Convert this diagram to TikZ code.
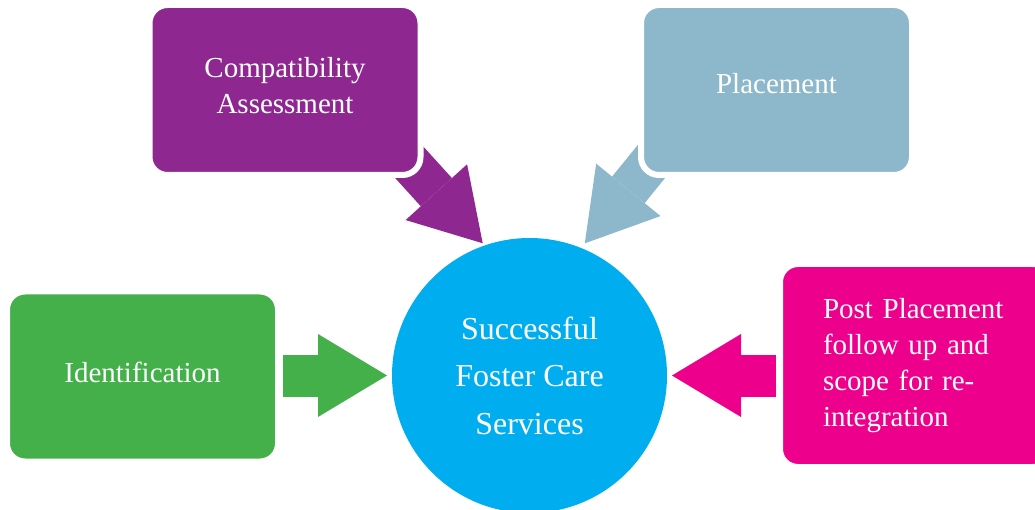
\documentclass[tikz,border=0pt]{standalone}
\usepackage{fontspec}
\setmainfont{Liberation Serif}
\definecolor{compatpurple}{RGB}{142, 39, 143}
\definecolor{placeblue}{RGB}{141, 184, 203}
\definecolor{identgreen}{RGB}{67, 176, 74}
\definecolor{postpink}{RGB}{236, 0, 140}
\definecolor{carecyan}{RGB}{0, 174, 239}
\usetikzlibrary{arrows.meta, positioning, backgrounds}

\begin{document}
\begin{tikzpicture}[x=1pt, y=1pt,
  sbox/.style={draw=white, line width=6pt, rounded corners=18pt, minimum width=271pt, minimum height=170pt, align=center, text=white, font=\fontsize{29}{36}\selectfont, inner sep=0pt},
  cbox/.style={circle, fill=carecyan, minimum size=275pt, inner sep=0pt, outer sep=0pt, align=center, text=white, font=\fontsize{32}{47.5}\selectfont},
  barrow/.style={line width=42pt, -{Triangle[width=83pt, length=69pt, line width=0pt]}}
]
  \useasboundingbox (0,0) rectangle (1035,509);
  \clip (0,0) rectangle (1035,509);

  % Centre
  \node[cbox] (svc) at (529.5, 133.5) {Successful\\Foster Care\\Services};

  % Stages
  \node[sbox, fill=compatpurple, text depth=10pt] (compat) at (285, 419) {Compatibility\\Assessment};
  \node[sbox, fill=placeblue, text depth=14pt] (place) at (776.5, 419) {Placement};
  \node[sbox, fill=identgreen, text depth=8pt] (ident) at (142.5, 132.5) {Identification};
  \node[sbox, fill=postpink, minimum height=203pt, text width=185pt, align=left] (post) at (915.5, 143.5) {Post Placement\\follow up and\\scope for re-\\integration};

  % Arrows into the centre
  \begin{scope}[on background layer]
    \draw[barrow, compatpurple, shorten <=-40pt, shorten >=3pt] (compat.south east) -- (svc.109);
    \draw[barrow, placeblue, shorten <=-40pt, shorten >=6pt] (place.south west) -- (svc.68);
    \draw[barrow, identgreen, shorten <=2pt, shorten >=5pt] (ident.east |- svc.west) -- (svc.west);
    \draw[barrow, postpink, shorten <=1pt, shorten >=5pt] (post.west |- svc.east) -- (svc.east);
  \end{scope}
\end{tikzpicture}
\end{document}
